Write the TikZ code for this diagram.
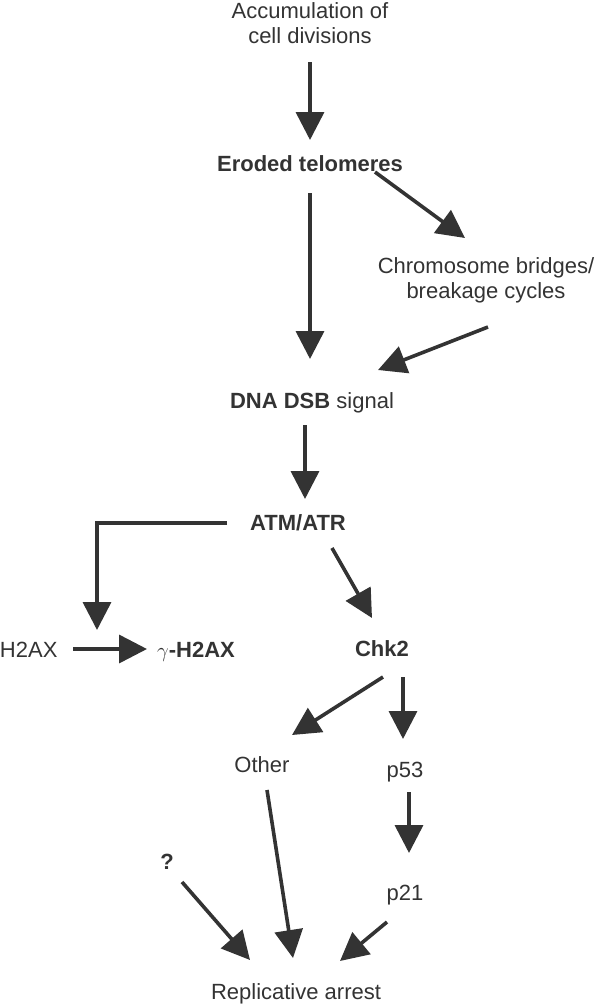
\documentclass[tikz,border=0pt]{standalone}
\usepackage{fontspec}
\setmainfont{Liberation Sans}
\usetikzlibrary{arrows.meta,calc}
\definecolor{ink}{HTML}{333333}
\begin{document}
\begin{tikzpicture}[x=1pt,y=-1pt,
  lbl/.style={inner sep=0pt,anchor=base,text=ink,align=center,
    font=\fontsize{22}{25}\selectfont},
  bl/.style={lbl,font=\fontsize{22}{25}\selectfont\bfseries},
  arr/.style={draw=ink,line width=3.6pt,
    -{Triangle[length=28pt,width=28pt]}}]
\useasboundingbox (0,0) rectangle (600,1005);
% nodes (base = baseline of the last line)
\node[lbl] (acc)   at (310,43)  {Accumulation of\\cell divisions};
\node[bl]  (ero)   at (310,171) {Eroded telomeres};
\node[lbl] (chr)   at (486,298) {Chromosome bridges/\\breakage cycles};
\node[lbl] (dna)   at (312,408) {\textbf{DNA DSB} signal};
\node[bl]  (atm)   at (298,530) {ATM/ATR};
\node[lbl] (h2ax)  at (28.7,657) {H2AX};
\node[lbl] (gh2ax) at (196,657) {$\gamma$\textbf{-H2AX}};
\node[bl]  (chk2)  at (382,656) {Chk2};
\node[lbl] (other) at (262,772) {Other};
\node[lbl] (p53)   at (405,777) {p53};
\node[bl]  (q)     at (167,869) {?};
\node[lbl] (p21)   at (405,900) {p21};
\node[lbl] (rep)   at (296,999) {Replicative arrest};
% connectors
\draw[arr] ($(acc.base)+(0,19)$) -- ($(ero.base)+(0,-31)$);
\draw[arr] ($(ero.base)+(0,22)$) -- ($(dna.base)+(-2,-49)$);
\draw[arr] ($(ero.base)+(65,1)$) -- ($(chr.base)+(-21,-60)$);
\draw[arr] ($(chr.base)+(2,29)$) -- ($(dna.base)+(66,-38)$);
\draw[arr] ($(dna.base)+(-7,17)$) -- ($(atm.base)+(7,-31)$);
\draw[arr] ($(atm.base)+(-71,-7)$) -| ($(gh2ax.base)+(-99,-27)$);
\draw[arr] ($(h2ax.base)+(44.3,-8)$) -- ($(gh2ax.base)+(-49,-8)$);
\draw[arr] ($(atm.base)+(34,18)$) -- ($(chk2.base)+(-10,-38)$);
\draw[arr] ($(chk2.base)+(1,21)$) -- ($(other.base)+(30,-37)$);
\draw[arr] ($(chk2.base)+(21,21)$) -- ($(p53.base)+(-2,-38)$);
\draw[arr] ($(p53.base)+(4,15)$) -- ($(p21.base)+(4,-47)$);
\draw[arr] ($(other.base)+(5,18)$) -- ($(rep.base)+(-3,-41)$);
\draw[arr] ($(q.base)+(15,13)$) -- ($(rep.base)+(-46,-39)$);
\draw[arr] ($(p21.base)+(-18,22)$) -- ($(rep.base)+(44,-38)$);
\end{tikzpicture}
\end{document}
